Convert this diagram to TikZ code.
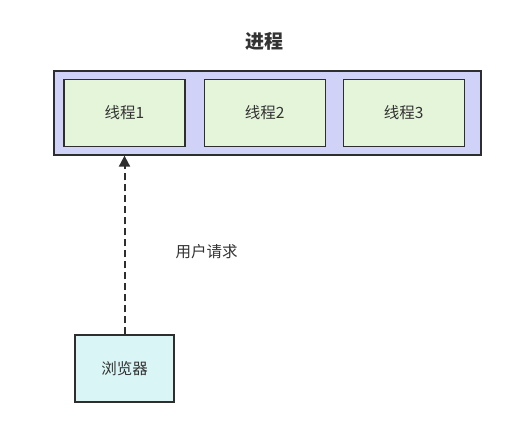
\documentclass[tikz,border=0pt]{standalone}
\usepackage{fontspec}
\setmainfont{Noto Sans CJK SC}
\usepackage{tikz}
\usetikzlibrary{arrows.meta}
\usetikzlibrary{positioning}
\definecolor{procfill}{HTML}{D0D3F7}
\definecolor{threadfill}{HTML}{E4F5DA}
\definecolor{clientfill}{HTML}{DAF5F5}
\definecolor{edgegray}{HTML}{2E2E2E}
\tikzstyle{procbox}   = [draw=edgegray,fill=procfill,rectangle,line width=1.3pt,minimum width=427pt,minimum height=84pt]
\tikzstyle{threadbox} = [draw=edgegray,fill=threadfill,rectangle,line width=1.1pt,minimum width=121pt,minimum height=67pt,font=\fontsize{15.5pt}{18pt}\selectfont,text=black!80]
\tikzstyle{clientbox} = [draw=edgegray,fill=clientfill,rectangle,line width=1.1pt,minimum width=99pt,minimum height=67pt,font=\fontsize{15.5pt}{18pt}\selectfont,text=black!80]

\begin{document}
\begin{tikzpicture}[x=1pt,y=-1pt,>={Triangle[width=11pt,length=11pt]},semithick]
\useasboundingbox (0,0) rectangle (508,425);

\node[font=\bfseries\fontsize{19pt}{22pt}\selectfont,text=black!80] (title) at (264.5,41) {进程};
\node[procbox] (proc) at (267.5,113) {};

\node[threadbox] (T1) at (124.5,113) {线程1};
\node[threadbox] (T2) [right=18pt of T1] {线程2};
\node[threadbox] (T3) [right=17pt of T2] {线程3};

\node[clientbox] (B) at (124.5,368.5) {浏览器};
\coordinate (tip) at (T1 |- proc.south);

\path
	(B) edge[->,draw=edgegray,line width=2pt,dash pattern=on 7pt off 4pt] (tip);

\node[font=\fontsize{15.5pt}{18pt}\selectfont,text=black!80] (req) at (206.5,252) {用户请求};

\end{tikzpicture}
\end{document}
